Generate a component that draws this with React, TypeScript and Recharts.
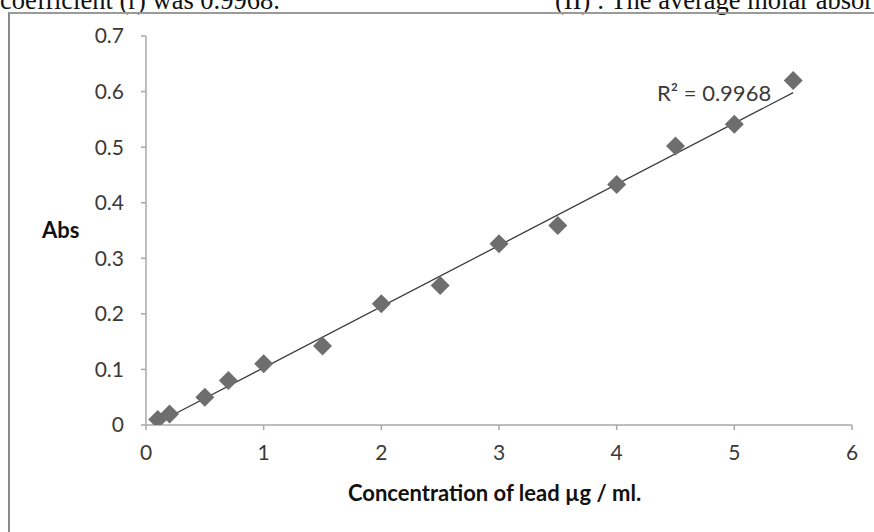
import React from "react";
import { ComposedChart, Scatter, XAxis, YAxis } from "recharts";

const concentration = [0.1, 0.2, 0.5, 0.7, 1, 1.5, 2, 2.5, 3, 3.5, 4, 4.5, 5, 5.5];
const absorbance = [0.01, 0.02, 0.05, 0.08, 0.11, 0.142, 0.218, 0.251, 0.326, 0.359, 0.433, 0.502, 0.541, 0.62];
const trendX = [0.1, 5.5];
const trendY = [0.004, 0.598];
const xTicks = [0, 1, 2, 3, 4, 5, 6];
const yTicks = [0, 0.1, 0.2, 0.3, 0.4, 0.5, 0.6, 0.7];

const points = concentration.map((x, i) => ({ x, y: absorbance[i] }));
const trend = trendX.map((x, i) => ({ x, y: trendY[i] }));

const FONT = "Lato, 'Open Sans', sans-serif";

const Diamond = (props: any) => {
  const { cx, cy } = props;
  if (cx == null || cy == null) return <g />;
  const r = 9.5;
  return (
    <polygon
      points={`${cx},${cy - r} ${cx + r},${cy} ${cx},${cy + r} ${cx - r},${cy}`}
      fill="#6e6e6e"
    />
  );
};

const Nothing = () => <g />;

export default function App() {
  return (
    <div style={{ position: "fixed", left: 0, top: 0, width: 874, height: 532, background: "#fff", overflow: "hidden" }}>
      <div style={{ position: "absolute", left: 0, top: -13, width: 874, height: 27, fontFamily: "'Liberation Serif', 'Times New Roman', serif", fontSize: 26.5, lineHeight: 1, color: "#111", whiteSpace: "nowrap" }}>
        <span style={{ position: "absolute", left: 0, top: 0 }}>coefficient (r) was 0.9968.</span>
        <span style={{ position: "absolute", left: 555, top: 0 }}>(II) : The average molar absor</span>
      </div>
      <div style={{ position: "absolute", left: 8, top: 12, width: 880, height: 540, borderLeft: "2px solid #8a8a8a", borderTop: "2px solid #9a9a9a" }} />
      <div style={{ position: "absolute", left: 0, top: 0 }}>
        <ComposedChart width={874} height={532} margin={{ top: 36, right: 22, bottom: 77, left: 86 }}>
          <XAxis
            type="number"
            dataKey="x"
            domain={[0, 6]}
            ticks={xTicks}
            height={30}
            axisLine={{ stroke: "#a8a8a8", strokeWidth: 1.5 }}
            tickLine={{ stroke: "#a8a8a8", strokeWidth: 1.5 }}
            tickSize={5}
            tickMargin={15}
            tick={{ fill: "#3a3a3a", fontSize: 21, fontFamily: FONT }}
            allowDataOverflow
          />
          <YAxis
            type="number"
            dataKey="y"
            domain={[0, 0.7]}
            ticks={yTicks}
            width={60}
            axisLine={{ stroke: "#a8a8a8", strokeWidth: 1.5 }}
            tickLine={{ stroke: "#a8a8a8", strokeWidth: 1.5 }}
            tickSize={5}
            tickMargin={17}
            tick={{ fill: "#3a3a3a", fontSize: 21, fontFamily: FONT }}
            allowDataOverflow
          />
          <Scatter
            data={trend}
            line={{ stroke: "#3c3c3c", strokeWidth: 1.3 }}
            shape={<Nothing />}
            isAnimationActive={false}
          />
          <Scatter data={points} shape={<Diamond />} isAnimationActive={false} />
        </ComposedChart>
      </div>
      <div style={{ position: "absolute", left: 42, top: 216, fontFamily: FONT, fontWeight: 700, fontSize: 22, color: "#111" }}>Abs</div>
      <div style={{ position: "absolute", left: 348, top: 479, fontFamily: FONT, fontWeight: 700, fontSize: 22, color: "#111", whiteSpace: "nowrap" }}>
        Concentration of lead µg / ml.
      </div>
      <div style={{ position: "absolute", left: 657, top: 79, fontFamily: FONT, fontSize: 22, color: "#3a3a3a", whiteSpace: "nowrap" }}>
        R² = 0.9968
      </div>
    </div>
  );
}
